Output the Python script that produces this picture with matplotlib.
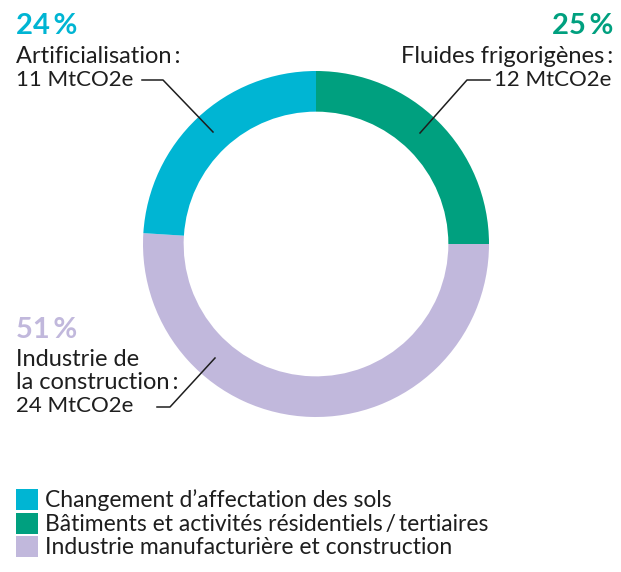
import matplotlib
matplotlib.use("Agg")
import matplotlib.pyplot as plt
from matplotlib.patches import Rectangle

plt.rcParams['font.family'] = ['Lato', 'DejaVu Sans']

# Data (pie order: clockwise from 12 o'clock)
sectors = ["Bâtiments et activités résidentiels/tertiaires",
           "Industrie manufacturière et construction",
           "Changement d'affectation des sols"]
shares = [25, 51, 24]
colors = ["#00a07f", "#c1b8dc", "#00b5d3"]

legend_labels = ["Changement d’affectation des sols",
                 "Bâtiments et activités résidentiels\u2009/\u2009tertiaires",
                 "Industrie manufacturière et construction"]
legend_colors = ["#00b5d3", "#00a07f", "#c1b8dc"]

pct_labels = ["25\u2009%", "51\u2009%", "24\u2009%"]

W, H = 621, 572
fig = plt.figure(figsize=(W / 100, H / 100), dpi=100)

# donut axes: centre (316, 244) px, outer radius 173 px
cx, cy, r = 316, 244, 173
pie_ax = fig.add_axes([(cx - r) / W, (H - cy - r) / H, 2 * r / W, 2 * r / H])
pie_ax.pie(shares, colors=colors, startangle=90, counterclock=False,
           radius=1, wedgeprops=dict(width=0.235, linewidth=0))
pie_ax.set_xlim(-1, 1)
pie_ax.set_ylim(-1, 1)
pie_ax.set_aspect("equal")
pie_ax.axis("off")

# overlay in pixel coordinates
ax = fig.add_axes([0, 0, 1, 1])
ax.set_xlim(0, W)
ax.set_ylim(H, 0)
ax.axis("off")

txt = "#1e1e1e"
fs = 17     # names
fs_v = 16   # values

# top-left : artificialisation
ax.text(16, 34, pct_labels[2], color=colors[2], fontsize=21, fontweight="bold", va="baseline")
ax.text(16, 63, "Artificialisation\u2009:", fontsize=fs, color=txt, va="baseline")
ax.text(16, 86, "11 MtCO2e", fontsize=fs_v, color=txt, va="baseline")
ax.plot([142, 163, 213], [80, 80, 132], color=txt, lw=1.1)

# top-right : fluides
ax.text(613, 34, pct_labels[0], color=colors[0], fontsize=21, fontweight="bold", va="baseline", ha="right")
ax.text(613, 63, "Fluides frigorigènes\u2009:", fontsize=fs, color=txt, va="baseline", ha="right")
ax.text(611, 86, "12 MtCO2e", fontsize=fs_v, color=txt, va="baseline", ha="right")
ax.plot([490, 467, 420], [80, 80, 133], color=txt, lw=1.1)

# bottom-left : industrie
ax.text(16, 338, pct_labels[1], color=colors[1], fontsize=21, fontweight="bold", va="baseline")
ax.text(16, 366, "Industrie de", fontsize=fs, color=txt, va="baseline")
ax.text(16, 389, "la construction\u2009:", fontsize=fs, color=txt, va="baseline")
ax.text(16, 412, "24 MtCO2e", fontsize=fs_v, color=txt, va="baseline")
ax.plot([157, 170, 215], [407, 407, 358], color=txt, lw=1.1)

# legend
for i, (lab, col) in enumerate(zip(legend_labels, legend_colors)):
    y0 = 489 + i * 23.5
    ax.add_patch(Rectangle((16, y0), 22, 21, color=col, lw=0))
    ax.text(45, y0 + 18, lab, fontsize=16.5, color=txt, va="baseline")

fig.savefig("out.png", dpi=100)
